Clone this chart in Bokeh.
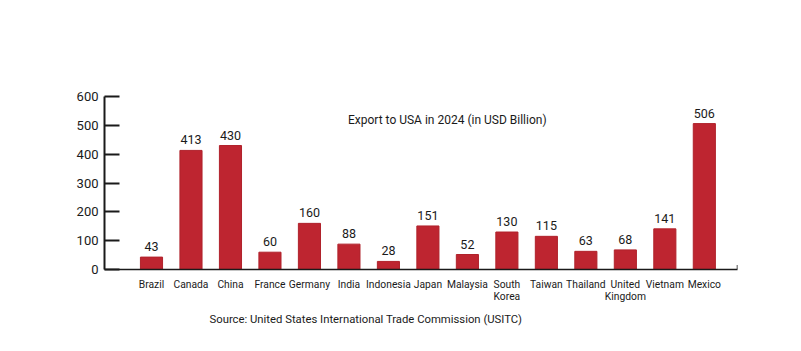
from bokeh.plotting import figure
from bokeh.models import ColumnDataSource, FixedTicker, Label, Range1d, Title
from bokeh.embed import file_html
from bokeh.resources import INLINE
from bokeh.core.properties import value

countries = ["Brazil", "Canada", "China", "France", "Germany", "India", "Indonesia",
             "Japan", "Malaysia", "South\nKorea", "Taiwan", "Thailand",
             "United\nKingdom", "Vietnam", "Mexico"]
exports = [43, 413, 430, 60, 160, 88, 28, 151, 52, 130, 115, 63, 68, 141, 506]
y_ticks = [0, 100, 200, 300, 400, 500, 600]
title_text = "Export to USA in 2024 (in USD Billion)"
source_text = "Source: United States International Trade Commission (USITC)"

idx = list(range(len(countries)))
src = ColumnDataSource(dict(x=idx, v=exports, lab=[str(e) for e in exports]))

X0, X1 = -1.19, 14.84
RED = "#BE2530"
INK = "#1a1a1a"

p = figure(width=801, height=351, output_backend="svg", toolbar_location=None,
           x_range=Range1d(X0, X1), y_range=Range1d(0, 600),
           min_border_left=104, min_border_right=64, min_border_top=96,
           min_border_bottom=82, background_fill_color="white",
           border_fill_color="white", outline_line_color=None)
p.grid.visible = False

p.vbar(x="x", top="v", width=0.56, source=src, fill_color=RED,
       line_color="#B0222B", line_width=1)
p.text(x="x", y="v", text="lab", source=src, y_offset=-6,
       text_align="center", text_baseline="bottom",
       text_font=value("Roboto"), text_font_size="12.5px", text_color=INK)

# y axis
ya = p.yaxis[0]
ya.ticker = FixedTicker(ticks=y_ticks)
ya.major_tick_in = 15
ya.major_tick_out = 0
ya.minor_tick_line_color = None
ya.axis_line_width = 2
ya.axis_line_color = INK
ya.major_tick_line_width = 2
ya.major_tick_line_color = INK
ya.major_label_standoff = 6
ya.major_label_text_font = "Roboto"
ya.major_label_text_font_size = "13px"
ya.major_label_text_color = INK

# x axis
xa = p.xaxis[0]
xa.ticker = FixedTicker(ticks=idx)
xa.major_label_overrides = {i: c for i, c in zip(idx, countries)}
xa.major_tick_in = 0
xa.major_tick_out = 0
xa.minor_tick_line_color = None
xa.axis_line_width = 1.5
xa.axis_line_color = INK
xa.major_label_standoff = 8
xa.major_label_text_font = "Roboto"
xa.major_label_text_font_size = "10.3px"
xa.major_label_text_color = INK
xa.major_label_text_line_height = 0.95

# end tick on x axis
p.segment(x0=[X1], x1=[X1], y0=[0], y1=[16], line_color=INK, line_width=1.5)

p.add_layout(Label(x=7.49, y=517, text=title_text, text_align="center",
                   text_baseline="middle", text_font="Roboto",
                   text_font_size="12px", text_color=INK))
p.add_layout(Title(text=source_text, align="left", offset=105, standoff=10,
                   text_font="Roboto", text_font_size="11.3px",
                   text_font_style="normal", text_color=INK), "below")

open("out.html", "w").write(file_html(p, INLINE))
